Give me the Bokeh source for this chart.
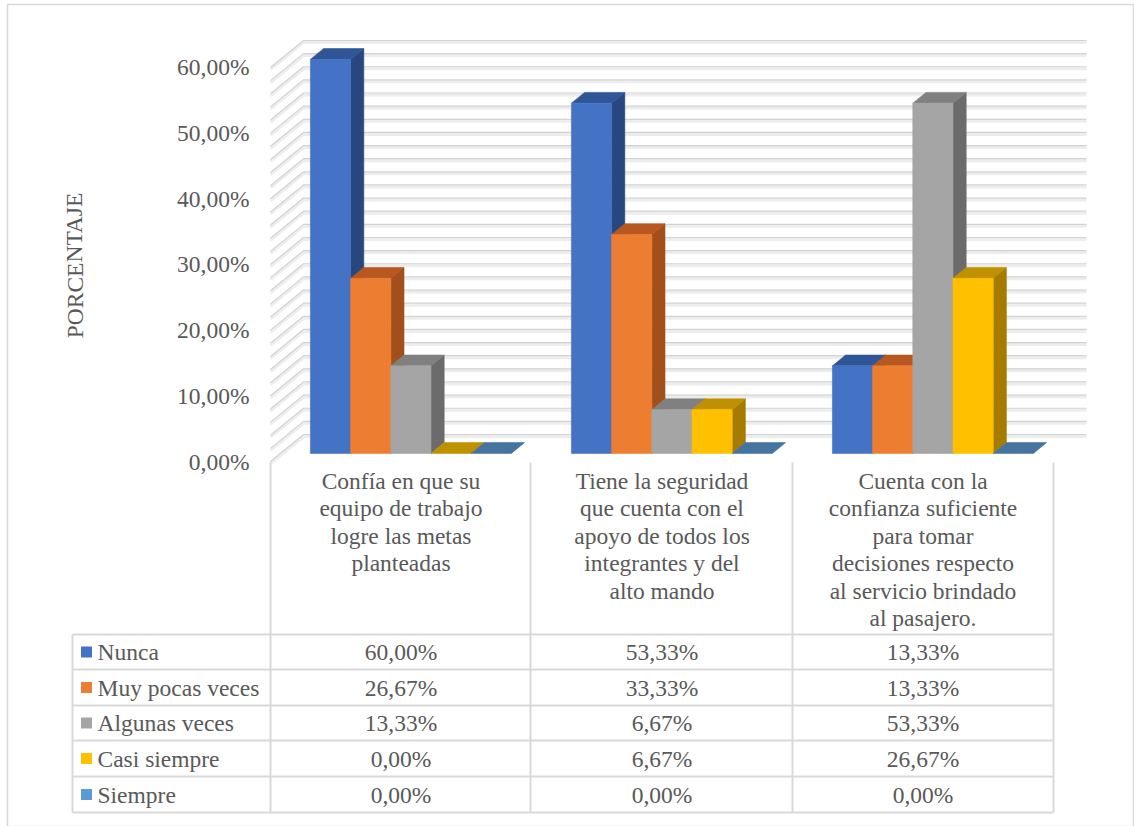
from bokeh.plotting import figure
from bokeh.models import Range1d, ColumnDataSource
from bokeh.core.properties import value
from bokeh.embed import file_html
from bokeh.resources import INLINE

# ---- data -------------------------------------------------------------
categories = [
    "Confía en que su\nequipo de trabajo\nlogre las metas\nplanteadas",
    "Tiene la seguridad\nque cuenta con el\napoyo de todos los\nintegrantes y del\nalto mando",
    "Cuenta con la\nconfianza suficiente\npara tomar\ndecisiones respecto\nal servicio brindado\nal pasajero.",
]
series = ["Nunca", "Muy pocas veces", "Algunas veces", "Casi siempre", "Siempre"]
nunca = [60.00, 53.33, 13.33]
muy_pocas_veces = [26.67, 33.33, 13.33]
algunas_veces = [13.33, 6.67, 53.33]
casi_siempre = [0.00, 6.67, 26.67]
siempre = [0.00, 0.00, 0.00]
values = [nunca, muy_pocas_veces, algunas_veces, casi_siempre, siempre]
y_ticks = [0, 10, 20, 30, 40, 50, 60]
y_title = "PORCENTAJE"

# ---- styling ----------------------------------------------------------
front_colors = ["#4472C4", "#ED7D31", "#A5A5A5", "#FFC000", "#5B9BD5"]
top_colors = ["#2F5597", "#B6581F", "#808080", "#BF9000", "#44749F"]
side_colors = ["#284780", "#A24F1B", "#6B6B6B", "#A67C00", "#3B6488"]
FONT = value("'Liberation Serif', 'Times New Roman', serif")
TXT = "#595959"
GRID_LINE = "#D2D2D2"
GRID_BAND = "#EDEDED"
TABLE_LINE = "#D9D9D9"
FS = "23.5px"

W, H = 1134, 826
X0_PX, CAT_PX = 270.0, 261.0      # front-plane left edge, width of one category
Y0_PX, PCT_PX = 461.0, 6.567      # front-plane zero line, pixels per percent


def ux(px):
    return (px - X0_PX) / CAT_PX


def uy(py):
    return (Y0_PX - py) / PCT_PX


# depth vector of the 3-D box (category units, percent units)
DX = 33.0 / CAT_PX
DY = 27.0 / PCT_PX
D0, D1 = 0.3, 0.7                  # bar depth span inside the box
BAR_W = 0.154
GAP = (1 - len(series) * BAR_W) / 2
YMAX = 60

p = figure(width=W, height=H, output_backend="svg", toolbar_location=None,
           x_range=Range1d(ux(0), ux(W)), y_range=Range1d(uy(H), uy(0)),
           min_border=0, outline_line_color=None,
           background_fill_color="white", border_fill_color="white")
p.axis.visible = False
p.grid.visible = False

# outer chart border
p.line([ux(7), ux(7), ux(1133), ux(1133), ux(7)],
       [uy(826), uy(4), uy(4), uy(826), uy(826)],
       line_color=TABLE_LINE, line_width=1.5)

# ---- walls: gridlines every 2 % on back wall and side wall -------------
n_cat = len(categories)
gxs, gys, bxs, bys = [], [], [], []
for v in range(0, YMAX + 1, 2):
    yb = v + DY
    gxs.append([0, DX, n_cat + DX])
    gys.append([v, yb, yb])
    bxs.append([0, DX, n_cat + DX])
    bys.append([v - 0.3, yb - 0.3, yb - 0.3])
p.multi_line(bxs, bys, line_color=GRID_BAND, line_width=3)
p.multi_line(gxs, gys, line_color=GRID_LINE, line_width=1.2)

# ---- 3-D columns --------------------------------------------------------
xs, ys, fc = [], [], []
for ci in range(n_cat):
    for si, ser in enumerate(values):
        v = ser[ci]
        a = ci + GAP + si * BAR_W
        b = a + BAR_W
        fx0, fy0 = D0 * DX, D0 * DY
        bx0, by0 = D1 * DX, D1 * DY
        if v > 0:
            # side face
            xs.append([b + fx0, b + bx0, b + bx0, b + fx0])
            ys.append([fy0, by0, v + by0, v + fy0])
            fc.append(side_colors[si])
        # top face
        xs.append([a + fx0, b + fx0, b + bx0, a + bx0])
        ys.append([v + fy0, v + fy0, v + by0, v + by0])
        fc.append(top_colors[si])
        if v > 0:
            # front face
            xs.append([a + fx0, b + fx0, b + fx0, a + fx0])
            ys.append([fy0, fy0, v + fy0, v + fy0])
            fc.append(front_colors[si])
src = ColumnDataSource(dict(xs=xs, ys=ys, fc=fc))
p.patches("xs", "ys", source=src, fill_color="fc", line_color="fc", line_width=0.6)

# ---- value axis labels ----------------------------------------------------
def pct(v):
    return f"{v:.2f}".replace(".", ",") + "%"


p.text(x=[ux(249)] * len(y_ticks), y=y_ticks, text=[pct(t) for t in y_ticks],
       text_font=FONT, text_font_size=FS, text_color=TXT,
       text_align="right", text_baseline="middle")
p.text(x=[ux(74)], y=[uy(265)], text=[y_title], angle=1.5708,
       text_font=FONT, text_font_size=FS, text_color=TXT,
       text_align="center", text_baseline="middle")

# ---- data table -----------------------------------------------------------
row_edges = [634, 669, 705, 740, 776, 812]
col_edges = [270, 530, 792, 1053]
tx, ty = [], []
for r in row_edges:
    tx.append([ux(72), ux(1053)])
    ty.append([uy(r), uy(r)])
tx.append([ux(72), ux(72)])
ty.append([uy(634), uy(812)])
for c in col_edges:
    tx.append([ux(c), ux(c)])
    ty.append([uy(462), uy(812)])
p.multi_line(tx, ty, line_color=TABLE_LINE, line_width=2)

# category labels
p.text(x=[ci + 0.5 for ci in range(n_cat)], y=[uy(467)] * n_cat, text=categories,
       text_font=FONT, text_font_size=FS, text_color=TXT, text_line_height=1.06,
       text_align="center", text_baseline="top")

row_mid = [uy((row_edges[i] + row_edges[i + 1]) / 2) for i in range(len(series))]
# legend keys
p.rect(x=[ux(86)] * len(series), y=row_mid, width=11 / CAT_PX, height=11 / PCT_PX,
       fill_color=front_colors, line_color=None)
p.text(x=[ux(97)] * len(series), y=row_mid, text=series,
       text_font=FONT, text_font_size=FS, text_color=TXT,
       text_align="left", text_baseline="middle")

vx, vy, vt = [], [], []
for si, ser in enumerate(values):
    for ci in range(n_cat):
        vx.append(ci + 0.5)
        vy.append(row_mid[si])
        vt.append(pct(ser[ci]))
p.text(x=vx, y=vy, text=vt, text_font=FONT, text_font_size=FS, text_color=TXT,
       text_align="center", text_baseline="middle")

open("out.html", "w").write(file_html(p, INLINE))
